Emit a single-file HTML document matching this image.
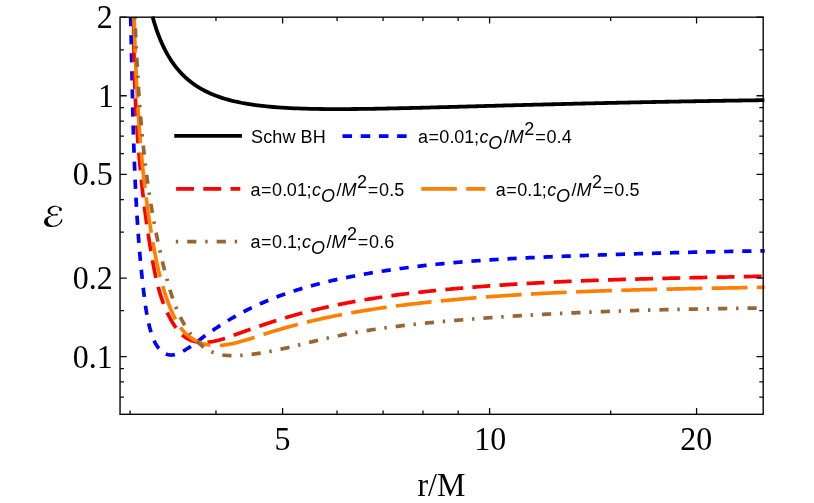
<!DOCTYPE html>
<html><head><meta charset="utf-8"><title>chart</title>
<style>html,body{margin:0;padding:0;background:#fff;}body{width:814px;height:503px;overflow:hidden;position:relative;font-family:"Liberation Sans",sans-serif;}</style>
</head><body>
<svg width="814" height="503" viewBox="0 0 814 503" style="position:absolute;left:0;top:0;will-change:transform;transform:translateZ(0)">
<rect x="0" y="0" width="814" height="503" fill="#fff"/>
<path d="M152.45,16.39 L153.07,18.61 L153.69,20.75 L154.31,22.80 L154.92,24.79 L155.54,26.70 L156.15,28.55 L156.76,30.34 L157.38,32.07 L157.99,33.74 L158.59,35.35 L159.20,36.92 L159.81,38.44 L160.41,39.91 L161.02,41.34 L161.62,42.72 L162.22,44.07 L162.82,45.37 L163.42,46.64 L164.02,47.87 L164.62,49.07 L165.21,50.24 L165.80,51.37 L166.40,52.48 L166.99,53.55 L167.58,54.60 L168.17,55.62 L168.76,56.61 L169.35,57.58 L169.93,58.53 L170.52,59.45 L171.10,60.35 L171.68,61.23 L172.27,62.08 L172.85,62.92 L173.42,63.74 L174.00,64.53 L174.58,65.31 L175.16,66.07 L175.73,66.82 L176.30,67.55 L176.88,68.26 L177.45,68.95 L178.02,69.63 L178.59,70.30 L179.16,70.95 L179.72,71.59 L180.29,72.21 L180.85,72.82 L181.42,73.42 L181.98,74.01 L182.54,74.58 L183.10,75.14 L183.66,75.69 L184.22,76.23 L184.78,76.76 L185.34,77.28 L185.89,77.79 L186.45,78.29 L187.00,78.78 L187.55,79.26 L188.10,79.73 L188.66,80.19 L189.20,80.64 L189.75,81.08 L190.30,81.52 L190.85,81.95 L191.39,82.37 L191.94,82.78 L192.48,83.18 L193.02,83.58 L193.56,83.97 L194.10,84.35 L194.64,84.73 L195.18,85.10 L195.72,85.46 L196.26,85.82 L196.79,86.17 L197.33,86.51 L197.86,86.85 L198.39,87.18 L198.93,87.51 L199.46,87.83 L199.99,88.14 L200.52,88.45 L201.04,88.76 L201.57,89.06 L202.10,89.35 L202.62,89.64 L203.15,89.93 L203.67,90.21 L204.19,90.48 L204.71,90.76 L205.23,91.02 L205.75,91.29 L206.27,91.54 L206.79,91.80 L207.31,92.05 L207.82,92.29 L208.34,92.54 L208.85,92.78 L209.37,93.01 L209.88,93.24 L210.39,93.47 L210.90,93.69 L211.41,93.91 L211.92,94.13 L212.43,94.34 L212.94,94.55 L213.44,94.76 L213.95,94.96 L214.46,95.17 L214.96,95.36 L215.46,95.56 L215.96,95.75 L221.19,97.60 L226.32,99.19 L231.37,100.55 L236.33,101.73 L241.21,102.75 L246.01,103.64 L250.74,104.41 L255.39,105.08 L259.97,105.67 L264.48,106.18 L268.93,106.62 L273.31,107.01 L277.63,107.35 L281.88,107.64 L286.08,107.90 L290.21,108.12 L294.29,108.31 L298.32,108.47 L302.29,108.60 L306.21,108.72 L310.08,108.82 L313.90,108.90 L317.67,108.96 L321.39,109.01 L325.07,109.05 L328.71,109.07 L332.30,109.09 L335.84,109.10 L339.35,109.09 L342.81,109.09 L346.24,109.07 L349.63,109.05 L352.98,109.02 L356.29,108.99 L359.56,108.96 L362.80,108.92 L366.01,108.87 L369.18,108.83 L372.31,108.78 L375.42,108.73 L378.49,108.68 L381.53,108.62 L384.54,108.56 L387.52,108.50 L390.48,108.44 L393.40,108.38 L396.29,108.32 L399.16,108.26 L402.00,108.19 L404.81,108.13 L407.60,108.06 L410.36,108.00 L413.09,107.93 L415.80,107.87 L418.49,107.80 L421.15,107.73 L423.79,107.67 L426.40,107.60 L429.00,107.53 L431.57,107.47 L434.11,107.40 L436.64,107.33 L439.15,107.27 L441.63,107.20 L444.10,107.14 L446.54,107.07 L448.96,107.01 L451.37,106.94 L453.75,106.88 L456.12,106.81 L458.47,106.75 L460.80,106.69 L463.11,106.62 L465.40,106.56 L467.68,106.50 L469.94,106.44 L472.18,106.38 L474.41,106.32 L476.62,106.26 L478.81,106.20 L480.99,106.14 L483.15,106.08 L485.29,106.02 L487.42,105.96 L489.54,105.91 L491.64,105.85 L493.72,105.79 L495.80,105.74 L497.85,105.68 L499.89,105.63 L501.92,105.57 L503.94,105.52 L505.94,105.46 L507.93,105.41 L509.90,105.36 L511.87,105.31 L513.82,105.25 L515.75,105.20 L517.68,105.15 L519.59,105.10 L521.49,105.05 L523.38,105.00 L525.25,104.95 L527.12,104.90 L528.97,104.86 L530.81,104.81 L532.64,104.76 L534.46,104.71 L536.27,104.67 L538.06,104.62 L539.85,104.58 L541.63,104.53 L543.39,104.49 L545.15,104.44 L546.89,104.40 L548.63,104.35 L550.35,104.31 L552.06,104.27 L553.77,104.23 L555.46,104.18 L557.15,104.14 L558.82,104.10 L560.49,104.06 L562.15,104.02 L563.80,103.98 L565.44,103.94 L567.07,103.90 L568.69,103.86 L570.30,103.82 L571.90,103.78 L573.50,103.75 L575.09,103.71 L576.66,103.67 L578.24,103.63 L579.80,103.60 L581.35,103.56 L582.90,103.52 L584.43,103.49 L585.96,103.45 L587.49,103.42 L589.00,103.38 L590.51,103.35 L592.01,103.31 L593.50,103.28 L594.98,103.24 L596.46,103.21 L597.93,103.18 L599.39,103.15 L600.85,103.11 L602.30,103.08 L603.74,103.05 L605.17,103.02 L606.60,102.98 L608.02,102.95 L609.43,102.92 L610.84,102.89 L612.24,102.86 L613.64,102.83 L615.02,102.80 L616.41,102.77 L617.78,102.74 L619.15,102.71 L620.51,102.68 L621.87,102.65 L623.22,102.62 L624.56,102.60 L625.90,102.57 L627.23,102.54 L628.56,102.51 L629.88,102.48 L631.19,102.46 L632.50,102.43 L633.80,102.40 L635.10,102.38 L636.39,102.35 L637.68,102.32 L638.96,102.30 L640.24,102.27 L641.51,102.25 L642.77,102.22 L644.03,102.19 L645.28,102.17 L646.53,102.14 L647.77,102.12 L649.01,102.10 L650.25,102.07 L651.47,102.05 L652.70,102.02 L653.91,102.00 L655.13,101.98 L656.34,101.95 L657.54,101.93 L658.74,101.91 L659.93,101.88 L661.12,101.86 L662.30,101.84 L663.48,101.81 L664.66,101.79 L665.83,101.77 L666.99,101.75 L668.16,101.73 L669.31,101.70 L670.46,101.68 L671.61,101.66 L672.76,101.64 L673.89,101.62 L675.03,101.60 L676.16,101.58 L677.29,101.56 L678.41,101.54 L679.52,101.52 L680.64,101.49 L681.75,101.47 L682.85,101.45 L683.95,101.43 L685.05,101.42 L686.14,101.40 L687.23,101.38 L688.32,101.36 L689.40,101.34 L690.48,101.32 L691.55,101.30 L692.62,101.28 L693.69,101.26 L694.75,101.24 L695.81,101.23 L696.86,101.21 L697.91,101.19 L698.96,101.17 L700.00,101.15 L701.04,101.13 L702.08,101.12 L703.11,101.10 L704.14,101.08 L705.17,101.06 L706.19,101.05 L707.21,101.03 L708.22,101.01 L709.23,101.00 L710.24,100.98 L711.25,100.96 L712.25,100.95 L713.25,100.93 L714.24,100.91 L715.23,100.90 L716.22,100.88 L717.21,100.86 L718.19,100.85 L719.17,100.83 L720.14,100.82 L721.11,100.80 L722.08,100.78 L723.05,100.77 L724.01,100.75 L724.97,100.74 L725.93,100.72 L726.88,100.71 L727.83,100.69 L728.78,100.68 L729.72,100.66 L730.66,100.65 L731.60,100.63 L732.54,100.62 L733.47,100.60 L734.40,100.59 L735.33,100.58 L736.25,100.56 L737.17,100.55 L738.09,100.53 L739.01,100.52 L739.92,100.50 L740.83,100.49 L741.74,100.48 L742.64,100.46 L743.54,100.45 L744.44,100.44 L745.34,100.42 L746.23,100.41 L747.12,100.40 L748.01,100.38 L748.90,100.37 L749.78,100.36 L750.66,100.34 L751.54,100.33 L752.41,100.32 L753.28,100.30 L754.16,100.29 L755.02,100.28 L755.89,100.27 L756.75,100.25 L757.61,100.24 L758.47,100.23 L759.32,100.22 L760.18,100.20 L761.03,100.19 L761.87,100.18 L762.72,100.17 L763.56,100.16 L764.40,100.14" fill="none" stroke="#000" stroke-width="3.8" stroke-linejoin="round"/>
<path d="M130.64,17.08 L130.69,18.99 L130.74,20.91 L130.79,22.83 L130.84,24.75 L130.89,26.67 L130.94,28.58 L130.99,30.50 L131.04,32.43 L131.08,34.35 L131.13,36.27 L131.18,38.19 L131.22,40.11 L131.27,42.03 L131.31,43.96 L131.35,45.88 L131.40,47.80 L131.44,49.73 L131.49,51.65 L131.53,53.58 L131.57,55.50 L131.61,57.43 L131.66,59.35 L131.70,61.28 L131.74,63.21 L131.78,65.13 L131.82,67.06 L131.87,68.99 L131.91,70.92 L131.95,72.84 L131.99,74.77 L132.03,76.70 L132.08,78.63 L132.12,80.56 L132.16,82.49 L132.20,84.42 L132.25,86.35 L132.29,88.28 L132.33,90.21 L132.38,92.14 L132.42,94.07 L132.47,96.00 L132.51,97.93 L132.55,99.86 L132.60,101.79 L132.65,103.72 L132.69,105.65 L132.74,107.58 L132.79,109.52 L132.83,111.45 L132.88,113.38 L132.93,115.31 L132.98,117.24 L133.03,119.18 L133.08,121.11 L133.14,123.04 L133.19,124.97 L133.24,126.90 L133.30,128.84 L133.35,130.77 L133.41,132.70 L133.46,134.63 L133.52,136.57 L133.58,138.50 L133.64,140.43 L133.70,142.36 L133.76,144.30 L133.82,146.23 L133.89,148.16 L133.95,150.09 L134.02,152.02 L134.08,153.96 L134.15,155.89 L134.22,157.82 L134.29,159.75 L134.37,161.68 L134.44,163.61 L134.51,165.54 L134.59,167.48 L134.67,169.41 L134.74,171.34 L134.82,173.27 L134.91,175.20 L134.99,177.13 L135.07,179.06 L135.16,180.99 L135.25,182.92 L135.34,184.85 L135.43,186.78 L135.52,188.71 L135.61,190.64 L135.71,192.56 L135.81,194.49 L135.91,196.42 L136.01,198.35 L136.11,200.28 L136.22,202.20 L136.32,204.13 L136.43,206.06 L136.54,207.98 L136.65,209.91 L136.77,211.83 L136.88,213.76 L137.00,215.68 L137.12,217.61 L137.25,219.53 L137.37,221.46 L137.50,223.38 L137.63,225.30 L137.76,227.22 L137.89,229.15 L138.03,231.07 L138.16,232.99 L138.31,234.91 L138.45,236.83 L138.59,238.75 L138.74,240.67 L138.89,242.59 L139.04,244.51 L139.20,246.43 L139.36,248.34 L139.52,250.26 L139.68,252.18 L139.84,254.09 L140.01,256.01 L140.18,257.92 L140.36,259.84 L140.53,261.75 L140.71,263.66 L140.89,265.58 L141.08,267.49 L141.27,269.40 L141.46,271.31 L141.65,273.22 L141.85,275.13 L142.04,277.04 L142.25,278.95 L142.45,280.86 L142.66,282.76 L142.87,284.67 L143.09,286.58 L143.30,288.48 L143.53,290.39 L143.75,292.29 L143.98,294.19 L144.21,296.10 L144.44,298.00 L144.69,299.90 L144.94,301.80 L145.19,303.70 L145.46,305.61 L145.74,307.51 L146.04,309.42 L146.34,311.33 L146.67,313.24 L147.01,315.16 L147.37,317.07 L147.75,318.99 L148.15,320.92 L148.58,322.84 L149.03,324.78 L149.50,326.71 L150.00,328.65 L150.54,330.60 L151.10,332.54 L151.71,334.47 L152.36,336.37 L153.07,338.24 L153.84,340.08 L154.67,341.86 L155.58,343.58 L156.56,345.23 L157.62,346.80 L158.78,348.29 L160.03,349.67 L161.37,350.95 L162.80,352.09 L164.31,353.07 L165.88,353.88 L167.51,354.48 L169.19,354.86 L170.91,355.00 L172.67,354.91 L174.44,354.61 L176.23,354.13 L178.02,353.50 L179.80,352.75 L181.56,351.90 L183.30,350.99 L185.01,350.02 L186.69,349.01 L188.34,347.95 L189.98,346.86 L191.60,345.73 L193.20,344.59 L194.79,343.42 L196.38,342.24 L197.95,341.06 L199.53,339.87 L201.11,338.69 L202.69,337.51 L204.27,336.35 L205.86,335.20 L207.45,334.06 L209.04,332.93 L210.64,331.81 L212.24,330.70 L213.85,329.60 L215.46,328.51 L217.08,327.44 L218.70,326.37 L220.32,325.32 L221.95,324.27 L223.59,323.24 L225.23,322.22 L226.87,321.21 L228.52,320.22 L230.17,319.23 L231.83,318.25 L233.49,317.29 L235.16,316.34 L236.83,315.40 L238.51,314.47 L240.19,313.55 L241.88,312.65 L243.58,311.75 L245.28,310.87 L246.98,310.00 L248.69,309.14 L250.41,308.29 L252.13,307.46 L253.86,306.64 L255.60,305.82 L257.33,305.02 L259.08,304.23 L260.83,303.46 L262.58,302.69 L264.34,301.93 L266.11,301.19 L267.87,300.45 L269.65,299.73 L271.43,299.02 L273.21,298.31 L275.00,297.62 L276.79,296.94 L278.59,296.26 L280.39,295.60 L282.19,294.95 L284.00,294.30 L285.81,293.67 L287.63,293.04 L289.45,292.43 L291.27,291.82 L293.10,291.22 L294.93,290.64 L296.77,290.06 L298.61,289.49 L300.45,288.92 L302.29,288.37 L304.14,287.82 L305.99,287.29 L307.85,286.76 L309.71,286.24 L311.57,285.72 L313.43,285.22 L315.29,284.72 L317.16,284.23 L319.03,283.75 L320.91,283.27 L322.78,282.81 L324.66,282.35 L326.54,281.89 L328.42,281.45 L330.31,281.01 L332.19,280.57 L334.08,280.14 L335.97,279.72 L337.86,279.31 L339.76,278.90 L341.65,278.50 L343.55,278.10 L345.45,277.71 L347.35,277.33 L349.25,276.95 L351.15,276.58 L353.05,276.21 L354.95,275.85 L356.86,275.49 L358.76,275.14 L360.67,274.79 L362.57,274.45 L364.48,274.11 L366.39,273.78 L368.30,273.45 L370.21,273.12 L372.11,272.80 L374.02,272.49 L375.93,272.18 L377.84,271.87 L379.75,271.56 L381.66,271.27 L383.57,270.97 L385.48,270.68 L387.39,270.39 L389.30,270.11 L391.21,269.83 L393.13,269.55 L395.04,269.28 L396.95,269.02 L398.86,268.75 L400.77,268.49 L402.69,268.23 L404.60,267.98 L406.51,267.73 L408.43,267.49 L410.34,267.25 L412.26,267.01 L414.17,266.77 L416.09,266.54 L418.00,266.31 L419.92,266.09 L421.83,265.87 L423.75,265.65 L425.66,265.44 L427.58,265.22 L429.49,265.02 L431.41,264.81 L433.33,264.61 L435.25,264.41 L437.16,264.22 L439.08,264.02 L441.00,263.83 L442.92,263.65 L444.83,263.46 L446.75,263.28 L448.67,263.10 L450.59,262.93 L452.51,262.76 L454.43,262.59 L456.35,262.42 L458.27,262.26 L460.19,262.09 L462.11,261.94 L464.03,261.78 L465.95,261.63 L467.87,261.47 L469.79,261.32 L471.71,261.18 L473.63,261.03 L475.55,260.89 L477.47,260.75 L479.39,260.62 L481.32,260.48 L483.24,260.35 L485.16,260.22 L487.08,260.09 L489.01,259.96 L490.93,259.84 L492.85,259.71 L494.77,259.59 L496.70,259.48 L498.62,259.36 L500.54,259.24 L502.47,259.13 L504.39,259.02 L506.32,258.91 L508.24,258.80 L510.16,258.70 L512.09,258.59 L514.01,258.49 L515.94,258.39 L517.86,258.29 L519.79,258.19 L521.71,258.09 L523.64,258.00 L525.56,257.91 L527.49,257.81 L529.42,257.72 L531.34,257.63 L533.27,257.54 L535.19,257.46 L537.12,257.37 L539.05,257.29 L540.97,257.20 L542.90,257.12 L544.82,257.04 L546.75,256.96 L548.68,256.88 L550.61,256.80 L552.53,256.72 L554.46,256.64 L556.39,256.57 L558.31,256.49 L560.24,256.42 L562.17,256.34 L564.10,256.27 L566.02,256.20 L567.95,256.12 L569.88,256.05 L571.81,255.98 L573.74,255.91 L575.66,255.84 L577.59,255.77 L579.52,255.70 L581.45,255.63 L583.38,255.56 L585.31,255.50 L587.23,255.43 L589.16,255.36 L591.09,255.29 L593.02,255.22 L594.95,255.16 L596.88,255.09 L598.81,255.02 L600.74,254.96 L602.67,254.89 L604.59,254.83 L606.52,254.76 L608.45,254.70 L610.38,254.63 L612.31,254.57 L614.24,254.50 L616.17,254.44 L618.10,254.38 L620.03,254.31 L621.96,254.25 L623.89,254.19 L625.82,254.13 L627.75,254.07 L629.68,254.00 L631.61,253.94 L633.54,253.88 L635.47,253.82 L637.40,253.76 L639.32,253.70 L641.25,253.64 L643.18,253.59 L645.11,253.53 L647.04,253.47 L648.97,253.41 L650.90,253.36 L652.83,253.30 L654.76,253.24 L656.69,253.19 L658.62,253.13 L660.55,253.08 L662.48,253.02 L664.41,252.97 L666.34,252.92 L668.27,252.86 L670.20,252.81 L672.13,252.76 L674.06,252.71 L675.99,252.66 L677.92,252.61 L679.85,252.56 L681.78,252.51 L683.71,252.46 L685.64,252.41 L687.56,252.36 L689.49,252.31 L691.42,252.27 L693.35,252.22 L695.28,252.18 L697.21,252.13 L699.14,252.09 L701.07,252.04 L703.00,252.00 L704.93,251.95 L706.86,251.91 L708.78,251.87 L710.71,251.83 L712.64,251.79 L714.57,251.75 L716.50,251.71 L718.43,251.67 L720.36,251.63 L722.28,251.59 L724.21,251.55 L726.14,251.52 L728.07,251.48 L730.00,251.45 L731.92,251.41 L733.85,251.38 L735.78,251.34 L737.71,251.31 L739.64,251.28 L741.56,251.25 L743.49,251.21 L745.42,251.18 L747.35,251.15 L749.27,251.12 L751.20,251.10 L753.13,251.07 L755.05,251.04 L756.98,251.01 L758.91,250.99 L760.83,250.96 L762.76,250.94 L764.69,250.92" fill="none" stroke="#0000ff" stroke-width="3.7" stroke-dasharray="9.2 8.87" stroke-linejoin="round"/>
<path d="M133.62,16.90 L133.63,18.75 L133.63,20.61 L133.64,22.46 L133.65,24.31 L133.66,26.16 L133.67,28.01 L133.68,29.86 L133.69,31.71 L133.71,33.56 L133.73,35.41 L133.75,37.26 L133.77,39.11 L133.79,40.95 L133.81,42.80 L133.84,44.65 L133.87,46.49 L133.90,48.34 L133.93,50.18 L133.96,52.03 L133.99,53.87 L134.03,55.71 L134.07,57.55 L134.11,59.40 L134.15,61.24 L134.19,63.08 L134.24,64.92 L134.29,66.76 L134.33,68.60 L134.39,70.44 L134.44,72.28 L134.49,74.12 L134.55,75.96 L134.61,77.80 L134.67,79.64 L134.73,81.47 L134.79,83.31 L134.86,85.15 L134.93,86.98 L135.00,88.82 L135.07,90.65 L135.15,92.49 L135.22,94.32 L135.30,96.16 L135.38,97.99 L135.46,99.83 L135.55,101.66 L135.63,103.49 L135.72,105.33 L135.81,107.16 L135.91,108.99 L136.00,110.82 L136.10,112.65 L136.20,114.48 L136.30,116.32 L136.41,118.15 L136.51,119.98 L136.62,121.81 L136.73,123.64 L136.85,125.47 L136.96,127.30 L137.08,129.12 L137.20,130.95 L137.32,132.78 L137.45,134.61 L137.58,136.44 L137.71,138.27 L137.84,140.09 L137.97,141.92 L138.11,143.75 L138.25,145.58 L138.39,147.40 L138.53,149.23 L138.68,151.06 L138.83,152.88 L138.98,154.71 L139.14,156.54 L139.29,158.36 L139.45,160.19 L139.61,162.01 L139.78,163.84 L139.95,165.66 L140.12,167.49 L140.29,169.31 L140.46,171.14 L140.64,172.96 L140.82,174.79 L141.00,176.61 L141.19,178.44 L141.38,180.26 L141.57,182.08 L141.76,183.91 L141.96,185.73 L142.16,187.56 L142.36,189.38 L142.57,191.20 L142.77,193.03 L142.98,194.85 L143.20,196.67 L143.41,198.50 L143.63,200.32 L143.85,202.15 L144.08,203.97 L144.31,205.79 L144.54,207.62 L144.77,209.44 L145.01,211.26 L145.24,213.09 L145.49,214.91 L145.73,216.73 L145.98,218.56 L146.23,220.38 L146.49,222.20 L146.74,224.03 L147.00,225.85 L147.27,227.67 L147.53,229.50 L147.80,231.32 L148.08,233.14 L148.35,234.97 L148.63,236.79 L148.91,238.62 L149.20,240.44 L149.49,242.26 L149.78,244.09 L150.07,245.91 L150.37,247.74 L150.67,249.56 L150.97,251.38 L151.28,253.21 L151.59,255.03 L151.91,256.86 L152.22,258.68 L152.55,260.51 L152.87,262.33 L153.21,264.16 L153.54,265.98 L153.89,267.80 L154.24,269.62 L154.60,271.43 L154.97,273.25 L155.35,275.06 L155.74,276.86 L156.15,278.67 L156.56,280.47 L156.99,282.26 L157.43,284.05 L157.88,285.84 L158.35,287.62 L158.84,289.40 L159.34,291.16 L159.86,292.93 L160.39,294.68 L160.95,296.43 L161.52,298.18 L162.12,299.91 L162.73,301.64 L163.37,303.35 L164.03,305.06 L164.71,306.76 L165.41,308.46 L166.14,310.14 L166.89,311.81 L167.67,313.47 L168.48,315.12 L169.31,316.76 L170.17,318.39 L171.06,320.01 L171.98,321.61 L172.93,323.20 L173.91,324.77 L174.93,326.31 L175.98,327.82 L177.08,329.28 L178.21,330.70 L179.39,332.06 L180.62,333.35 L181.89,334.58 L183.21,335.74 L184.59,336.81 L186.02,337.79 L187.51,338.68 L189.06,339.46 L190.66,340.15 L192.32,340.73 L194.01,341.22 L195.75,341.62 L197.52,341.92 L199.32,342.15 L201.13,342.29 L202.96,342.35 L204.81,342.34 L206.65,342.25 L208.49,342.10 L210.33,341.89 L212.16,341.61 L213.98,341.28 L215.80,340.90 L217.62,340.47 L219.43,340.01 L221.23,339.50 L223.04,338.96 L224.83,338.39 L226.63,337.80 L228.42,337.18 L230.20,336.55 L231.98,335.91 L233.76,335.26 L235.54,334.61 L237.31,333.96 L239.08,333.32 L240.84,332.68 L242.61,332.04 L244.37,331.41 L246.13,330.78 L247.88,330.15 L249.64,329.53 L251.39,328.91 L253.14,328.30 L254.89,327.69 L256.64,327.09 L258.38,326.49 L260.13,325.89 L261.87,325.30 L263.61,324.71 L265.35,324.13 L267.10,323.56 L268.84,322.98 L270.58,322.42 L272.32,321.85 L274.06,321.30 L275.80,320.74 L277.54,320.20 L279.29,319.66 L281.03,319.12 L282.77,318.59 L284.52,318.06 L286.26,317.54 L288.01,317.03 L289.76,316.52 L291.51,316.01 L293.26,315.51 L295.01,315.02 L296.77,314.53 L298.53,314.05 L300.29,313.58 L302.05,313.11 L303.81,312.64 L305.58,312.18 L307.34,311.73 L309.11,311.28 L310.88,310.84 L312.66,310.40 L314.43,309.97 L316.20,309.54 L317.98,309.12 L319.76,308.70 L321.54,308.29 L323.32,307.88 L325.11,307.48 L326.89,307.08 L328.68,306.68 L330.47,306.30 L332.25,305.91 L334.05,305.54 L335.84,305.16 L337.63,304.79 L339.43,304.43 L341.22,304.07 L343.02,303.71 L344.82,303.36 L346.62,303.01 L348.42,302.67 L350.23,302.33 L352.03,302.00 L353.83,301.67 L355.64,301.35 L357.45,301.02 L359.26,300.71 L361.07,300.39 L362.88,300.09 L364.69,299.78 L366.50,299.48 L368.32,299.18 L370.13,298.89 L371.95,298.60 L373.76,298.31 L375.58,298.03 L377.40,297.75 L379.22,297.48 L381.04,297.21 L382.86,296.94 L384.68,296.67 L386.51,296.41 L388.33,296.16 L390.16,295.90 L391.98,295.65 L393.81,295.40 L395.63,295.16 L397.46,294.92 L399.29,294.68 L401.12,294.44 L402.95,294.21 L404.77,293.98 L406.60,293.76 L408.44,293.53 L410.27,293.31 L412.10,293.10 L413.93,292.88 L415.76,292.67 L417.59,292.46 L419.43,292.25 L421.26,292.05 L423.10,291.85 L424.93,291.65 L426.76,291.45 L428.60,291.25 L430.43,291.06 L432.27,290.87 L434.10,290.69 L435.94,290.50 L437.78,290.32 L439.61,290.14 L441.45,289.96 L443.28,289.78 L445.12,289.60 L446.96,289.43 L448.79,289.26 L450.63,289.09 L452.46,288.92 L454.30,288.76 L456.14,288.59 L457.97,288.43 L459.81,288.27 L461.64,288.11 L463.48,287.96 L465.31,287.80 L467.15,287.65 L468.99,287.50 L470.82,287.34 L472.66,287.20 L474.49,287.05 L476.33,286.90 L478.16,286.76 L480.00,286.62 L481.83,286.48 L483.67,286.34 L485.50,286.20 L487.34,286.06 L489.17,285.93 L491.01,285.80 L492.84,285.67 L494.68,285.54 L496.51,285.41 L498.35,285.28 L500.18,285.16 L502.02,285.03 L503.85,284.91 L505.69,284.79 L507.52,284.67 L509.36,284.55 L511.19,284.43 L513.03,284.32 L514.86,284.20 L516.70,284.09 L518.53,283.98 L520.37,283.87 L522.20,283.76 L524.04,283.65 L525.87,283.55 L527.71,283.44 L529.54,283.34 L531.38,283.23 L533.21,283.13 L535.05,283.03 L536.88,282.93 L538.72,282.84 L540.55,282.74 L542.38,282.65 L544.22,282.55 L546.05,282.46 L547.89,282.37 L549.72,282.28 L551.56,282.19 L553.39,282.10 L555.23,282.01 L557.06,281.93 L558.90,281.84 L560.73,281.76 L562.57,281.67 L564.40,281.59 L566.24,281.51 L568.07,281.43 L569.91,281.35 L571.74,281.27 L573.58,281.20 L575.41,281.12 L577.25,281.05 L579.08,280.97 L580.92,280.90 L582.75,280.83 L584.59,280.76 L586.42,280.69 L588.26,280.62 L590.09,280.55 L591.93,280.48 L593.76,280.41 L595.60,280.35 L597.43,280.28 L599.27,280.22 L601.10,280.15 L602.94,280.09 L604.77,280.03 L606.61,279.97 L608.44,279.91 L610.28,279.85 L612.12,279.79 L613.95,279.73 L615.79,279.67 L617.62,279.62 L619.46,279.56 L621.30,279.50 L623.13,279.45 L624.97,279.39 L626.80,279.34 L628.64,279.29 L630.48,279.24 L632.31,279.18 L634.15,279.13 L635.98,279.08 L637.82,279.03 L639.66,278.98 L641.49,278.93 L643.33,278.88 L645.17,278.84 L647.00,278.79 L648.84,278.74 L650.68,278.69 L652.51,278.65 L654.35,278.60 L656.19,278.56 L658.03,278.51 L659.86,278.47 L661.70,278.42 L663.54,278.38 L665.38,278.34 L667.21,278.29 L669.05,278.25 L670.89,278.21 L672.73,278.17 L674.57,278.13 L676.40,278.08 L678.24,278.04 L680.08,278.00 L681.92,277.96 L683.76,277.92 L685.59,277.88 L687.43,277.84 L689.27,277.80 L691.11,277.76 L692.95,277.72 L694.79,277.68 L696.63,277.65 L698.47,277.61 L700.31,277.57 L702.15,277.53 L703.99,277.49 L705.83,277.45 L707.67,277.42 L709.51,277.38 L711.35,277.34 L713.19,277.30 L715.03,277.26 L716.87,277.23 L718.71,277.19 L720.55,277.15 L722.39,277.11 L724.23,277.08 L726.07,277.04 L727.91,277.00 L729.75,276.96 L731.59,276.93 L733.43,276.89 L735.28,276.85 L737.12,276.81 L738.96,276.77 L740.80,276.73 L742.64,276.70 L744.49,276.66 L746.33,276.62 L748.17,276.58 L750.01,276.54 L751.86,276.50 L753.70,276.46 L755.54,276.42 L757.39,276.38 L759.23,276.34 L761.07,276.30 L762.92,276.26 L764.76,276.22" fill="none" stroke="#ff0000" stroke-width="3.7" stroke-dasharray="17.9 9.26" stroke-linejoin="round"/>
<path d="M134.04,17.02 L134.10,18.84 L134.15,20.66 L134.21,22.48 L134.27,24.30 L134.33,26.12 L134.39,27.94 L134.45,29.76 L134.51,31.58 L134.57,33.40 L134.63,35.22 L134.69,37.05 L134.75,38.87 L134.82,40.69 L134.88,42.52 L134.95,44.34 L135.01,46.17 L135.08,47.99 L135.15,49.82 L135.22,51.64 L135.29,53.47 L135.36,55.29 L135.43,57.12 L135.50,58.95 L135.58,60.77 L135.65,62.60 L135.73,64.43 L135.81,66.26 L135.89,68.08 L135.97,69.91 L136.05,71.74 L136.13,73.57 L136.21,75.39 L136.30,77.22 L136.38,79.05 L136.47,80.88 L136.56,82.71 L136.65,84.54 L136.74,86.36 L136.84,88.19 L136.93,90.02 L137.03,91.85 L137.13,93.68 L137.22,95.51 L137.33,97.33 L137.43,99.16 L137.53,100.99 L137.64,102.82 L137.75,104.65 L137.86,106.47 L137.97,108.30 L138.08,110.13 L138.20,111.96 L138.31,113.78 L138.43,115.61 L138.55,117.44 L138.67,119.26 L138.80,121.09 L138.92,122.92 L139.05,124.74 L139.18,126.57 L139.32,128.39 L139.45,130.22 L139.59,132.04 L139.73,133.87 L139.87,135.69 L140.01,137.52 L140.15,139.34 L140.30,141.16 L140.45,142.99 L140.60,144.81 L140.76,146.63 L140.91,148.45 L141.07,150.27 L141.23,152.09 L141.40,153.91 L141.57,155.73 L141.73,157.55 L141.90,159.37 L142.08,161.19 L142.25,163.01 L142.43,164.82 L142.62,166.64 L142.80,168.46 L142.99,170.27 L143.18,172.09 L143.37,173.90 L143.56,175.72 L143.76,177.53 L143.96,179.34 L144.16,181.15 L144.37,182.96 L144.58,184.77 L144.79,186.58 L145.00,188.39 L145.22,190.20 L145.44,192.01 L145.67,193.82 L145.89,195.63 L146.12,197.44 L146.36,199.24 L146.59,201.05 L146.83,202.86 L147.07,204.66 L147.32,206.47 L147.57,208.28 L147.82,210.08 L148.07,211.89 L148.33,213.69 L148.59,215.50 L148.86,217.30 L149.13,219.11 L149.40,220.91 L149.67,222.72 L149.95,224.52 L150.23,226.33 L150.52,228.13 L150.81,229.94 L151.10,231.74 L151.40,233.55 L151.70,235.35 L152.00,237.16 L152.31,238.96 L152.62,240.77 L152.93,242.57 L153.25,244.38 L153.57,246.19 L153.90,247.99 L154.24,249.80 L154.57,251.60 L154.92,253.40 L155.27,255.20 L155.63,257.00 L155.99,258.80 L156.36,260.60 L156.74,262.40 L157.13,264.19 L157.52,265.98 L157.92,267.77 L158.34,269.56 L158.76,271.35 L159.19,273.13 L159.63,274.91 L160.08,276.69 L160.54,278.46 L161.01,280.23 L161.49,282.00 L161.98,283.76 L162.49,285.52 L163.01,287.28 L163.54,289.03 L164.08,290.77 L164.64,292.52 L165.21,294.25 L165.79,295.99 L166.39,297.72 L167.00,299.44 L167.62,301.16 L168.26,302.87 L168.92,304.58 L169.59,306.28 L170.28,307.97 L170.98,309.66 L171.71,311.35 L172.44,313.02 L173.20,314.69 L173.98,316.35 L174.79,317.99 L175.63,319.61 L176.50,321.21 L177.41,322.79 L178.35,324.34 L179.34,325.85 L180.38,327.34 L181.47,328.79 L182.61,330.19 L183.80,331.56 L185.06,332.88 L186.38,334.14 L187.77,335.36 L189.22,336.52 L190.73,337.62 L192.29,338.66 L193.90,339.63 L195.54,340.54 L197.22,341.37 L198.92,342.13 L200.63,342.81 L202.36,343.41 L204.09,343.92 L205.83,344.36 L207.56,344.71 L209.30,344.99 L211.04,345.20 L212.77,345.35 L214.51,345.43 L216.25,345.46 L218.00,345.43 L219.74,345.35 L221.48,345.23 L223.23,345.07 L224.97,344.87 L226.72,344.63 L228.47,344.35 L230.21,344.04 L231.96,343.70 L233.71,343.33 L235.47,342.93 L237.22,342.50 L238.97,342.05 L240.73,341.58 L242.48,341.09 L244.24,340.58 L246.00,340.05 L247.75,339.51 L249.51,338.96 L251.27,338.40 L253.03,337.83 L254.80,337.25 L256.56,336.67 L258.32,336.09 L260.09,335.50 L261.85,334.92 L263.62,334.34 L265.39,333.77 L267.16,333.21 L268.93,332.65 L270.70,332.09 L272.47,331.55 L274.24,331.01 L276.01,330.47 L277.78,329.94 L279.56,329.42 L281.33,328.90 L283.11,328.39 L284.88,327.89 L286.66,327.39 L288.44,326.90 L290.22,326.41 L292.00,325.93 L293.78,325.45 L295.56,324.98 L297.34,324.51 L299.12,324.05 L300.91,323.60 L302.69,323.15 L304.47,322.70 L306.26,322.27 L308.05,321.83 L309.83,321.40 L311.62,320.98 L313.41,320.56 L315.20,320.15 L316.99,319.74 L318.78,319.34 L320.57,318.94 L322.36,318.55 L324.15,318.16 L325.94,317.77 L327.74,317.39 L329.53,317.02 L331.32,316.65 L333.12,316.28 L334.91,315.92 L336.71,315.56 L338.51,315.21 L340.30,314.86 L342.10,314.52 L343.90,314.18 L345.70,313.84 L347.50,313.51 L349.30,313.19 L351.10,312.86 L352.90,312.54 L354.70,312.23 L356.50,311.92 L358.30,311.61 L360.11,311.31 L361.91,311.01 L363.71,310.71 L365.52,310.42 L367.32,310.13 L369.13,309.85 L370.93,309.57 L372.74,309.29 L374.55,309.01 L376.35,308.74 L378.16,308.47 L379.97,308.21 L381.78,307.95 L383.59,307.69 L385.39,307.44 L387.20,307.18 L389.01,306.93 L390.82,306.69 L392.63,306.45 L394.44,306.21 L396.25,305.97 L398.07,305.74 L399.88,305.50 L401.69,305.28 L403.50,305.05 L405.31,304.83 L407.13,304.61 L408.94,304.39 L410.75,304.17 L412.57,303.96 L414.38,303.75 L416.19,303.54 L418.01,303.33 L419.82,303.13 L421.64,302.93 L423.45,302.73 L425.27,302.53 L427.08,302.34 L428.90,302.14 L430.72,301.95 L432.53,301.76 L434.35,301.57 L436.16,301.39 L437.98,301.20 L439.80,301.02 L441.61,300.84 L443.43,300.66 L445.25,300.49 L447.07,300.31 L448.88,300.14 L450.70,299.97 L452.52,299.80 L454.34,299.63 L456.16,299.47 L457.97,299.30 L459.79,299.14 L461.61,298.98 L463.43,298.82 L465.25,298.66 L467.07,298.51 L468.89,298.35 L470.71,298.20 L472.53,298.05 L474.35,297.90 L476.17,297.76 L477.99,297.61 L479.81,297.47 L481.63,297.32 L483.45,297.18 L485.27,297.05 L487.09,296.91 L488.91,296.77 L490.73,296.64 L492.56,296.50 L494.38,296.37 L496.20,296.24 L498.02,296.12 L499.84,295.99 L501.66,295.86 L503.49,295.74 L505.31,295.62 L507.13,295.50 L508.95,295.38 L510.78,295.26 L512.60,295.14 L514.42,295.03 L516.24,294.91 L518.07,294.80 L519.89,294.69 L521.71,294.58 L523.54,294.47 L525.36,294.36 L527.19,294.26 L529.01,294.15 L530.83,294.05 L532.66,293.95 L534.48,293.84 L536.31,293.75 L538.13,293.65 L539.95,293.55 L541.78,293.45 L543.60,293.36 L545.43,293.27 L547.25,293.17 L549.08,293.08 L550.90,292.99 L552.73,292.90 L554.55,292.82 L556.38,292.73 L558.21,292.64 L560.03,292.56 L561.86,292.48 L563.68,292.39 L565.51,292.31 L567.33,292.23 L569.16,292.15 L570.99,292.08 L572.81,292.00 L574.64,291.92 L576.46,291.85 L578.29,291.77 L580.12,291.70 L581.94,291.63 L583.77,291.56 L585.60,291.49 L587.42,291.42 L589.25,291.35 L591.08,291.28 L592.90,291.22 L594.73,291.15 L596.56,291.09 L598.38,291.02 L600.21,290.96 L602.04,290.90 L603.87,290.83 L605.69,290.77 L607.52,290.71 L609.35,290.65 L611.17,290.60 L613.00,290.54 L614.83,290.48 L616.66,290.43 L618.48,290.37 L620.31,290.32 L622.14,290.26 L623.97,290.21 L625.80,290.16 L627.62,290.10 L629.45,290.05 L631.28,290.00 L633.11,289.95 L634.93,289.90 L636.76,289.86 L638.59,289.81 L640.42,289.76 L642.25,289.71 L644.07,289.67 L645.90,289.62 L647.73,289.58 L649.56,289.53 L651.39,289.49 L653.21,289.44 L655.04,289.40 L656.87,289.36 L658.70,289.31 L660.53,289.27 L662.35,289.23 L664.18,289.19 L666.01,289.15 L667.84,289.11 L669.67,289.07 L671.50,289.03 L673.32,288.99 L675.15,288.95 L676.98,288.92 L678.81,288.88 L680.64,288.84 L682.46,288.80 L684.29,288.77 L686.12,288.73 L687.95,288.69 L689.78,288.66 L691.60,288.62 L693.43,288.59 L695.26,288.55 L697.09,288.52 L698.92,288.48 L700.74,288.45 L702.57,288.41 L704.40,288.38 L706.23,288.34 L708.06,288.31 L709.88,288.28 L711.71,288.24 L713.54,288.21 L715.37,288.18 L717.20,288.14 L719.02,288.11 L720.85,288.08 L722.68,288.04 L724.51,288.01 L726.33,287.98 L728.16,287.94 L729.99,287.91 L731.82,287.88 L733.64,287.84 L735.47,287.81 L737.30,287.78 L739.12,287.75 L740.95,287.71 L742.78,287.68 L744.61,287.65 L746.43,287.61 L748.26,287.58 L750.09,287.55 L751.91,287.51 L753.74,287.48 L755.57,287.44 L757.39,287.41 L759.22,287.38 L761.05,287.34 L762.87,287.31 L764.70,287.27" fill="none" stroke="#ff8000" stroke-width="3.7" stroke-dasharray="35.8 9.4" stroke-linejoin="round"/>
<path d="M134.86,16.94 L134.94,18.76 L135.02,20.59 L135.10,22.42 L135.18,24.25 L135.26,26.08 L135.34,27.90 L135.42,29.73 L135.50,31.56 L135.58,33.38 L135.67,35.21 L135.75,37.04 L135.83,38.86 L135.92,40.69 L136.00,42.52 L136.09,44.34 L136.18,46.17 L136.27,47.99 L136.36,49.82 L136.45,51.65 L136.54,53.47 L136.63,55.29 L136.72,57.12 L136.82,58.94 L136.91,60.77 L137.01,62.59 L137.11,64.42 L137.21,66.24 L137.31,68.06 L137.41,69.89 L137.51,71.71 L137.62,73.53 L137.73,75.35 L137.83,77.18 L137.94,79.00 L138.05,80.82 L138.16,82.64 L138.28,84.46 L138.39,86.28 L138.51,88.11 L138.63,89.93 L138.75,91.75 L138.87,93.57 L138.99,95.39 L139.12,97.21 L139.25,99.02 L139.38,100.84 L139.51,102.66 L139.64,104.48 L139.77,106.30 L139.91,108.12 L140.05,109.93 L140.19,111.75 L140.33,113.57 L140.48,115.38 L140.63,117.20 L140.78,119.02 L140.93,120.83 L141.08,122.65 L141.24,124.46 L141.40,126.28 L141.56,128.09 L141.72,129.90 L141.89,131.72 L142.06,133.53 L142.23,135.34 L142.40,137.16 L142.58,138.97 L142.75,140.78 L142.93,142.59 L143.12,144.40 L143.30,146.21 L143.49,148.02 L143.69,149.83 L143.88,151.64 L144.08,153.45 L144.28,155.26 L144.48,157.07 L144.69,158.88 L144.90,160.69 L145.11,162.49 L145.32,164.30 L145.54,166.11 L145.76,167.91 L145.99,169.72 L146.21,171.52 L146.44,173.33 L146.68,175.13 L146.92,176.94 L147.16,178.74 L147.40,180.54 L147.65,182.35 L147.90,184.15 L148.15,185.95 L148.41,187.75 L148.67,189.55 L148.93,191.35 L149.20,193.15 L149.47,194.95 L149.75,196.75 L150.03,198.55 L150.31,200.35 L150.59,202.15 L150.88,203.94 L151.18,205.74 L151.47,207.54 L151.78,209.33 L152.08,211.13 L152.39,212.92 L152.70,214.72 L153.02,216.51 L153.34,218.30 L153.66,220.10 L153.99,221.89 L154.33,223.68 L154.66,225.47 L155.00,227.26 L155.35,229.05 L155.70,230.84 L156.05,232.63 L156.41,234.42 L156.77,236.21 L157.14,237.99 L157.51,239.78 L157.89,241.57 L158.27,243.35 L158.65,245.14 L159.04,246.92 L159.44,248.71 L159.84,250.49 L160.24,252.27 L160.65,254.05 L161.06,255.84 L161.48,257.62 L161.90,259.40 L162.33,261.18 L162.76,262.96 L163.19,264.74 L163.63,266.51 L164.08,268.29 L164.53,270.07 L164.99,271.85 L165.45,273.62 L165.92,275.40 L166.39,277.17 L166.86,278.94 L167.35,280.72 L167.83,282.49 L168.33,284.26 L168.83,286.03 L169.35,287.79 L169.87,289.55 L170.40,291.31 L170.94,293.06 L171.50,294.81 L172.07,296.55 L172.65,298.28 L173.25,300.01 L173.86,301.74 L174.49,303.45 L175.14,305.16 L175.80,306.85 L176.48,308.54 L177.18,310.22 L177.91,311.89 L178.65,313.55 L179.42,315.19 L180.20,316.83 L181.02,318.45 L181.85,320.06 L182.71,321.66 L183.60,323.24 L184.51,324.81 L185.46,326.36 L186.43,327.90 L187.43,329.42 L188.46,330.93 L189.52,332.42 L190.61,333.89 L191.74,335.34 L192.89,336.77 L194.09,338.18 L195.31,339.55 L196.57,340.89 L197.87,342.19 L199.20,343.45 L200.56,344.67 L201.97,345.83 L203.41,346.94 L204.88,348.00 L206.39,348.99 L207.94,349.92 L209.52,350.78 L211.12,351.57 L212.75,352.28 L214.40,352.91 L216.07,353.46 L217.75,353.94 L219.46,354.36 L221.18,354.70 L222.91,354.99 L224.66,355.22 L226.42,355.40 L228.18,355.52 L229.96,355.61 L231.75,355.65 L233.54,355.65 L235.33,355.62 L237.13,355.56 L238.94,355.47 L240.74,355.37 L242.54,355.24 L244.34,355.10 L246.15,354.94 L247.95,354.76 L249.75,354.57 L251.55,354.36 L253.35,354.14 L255.15,353.90 L256.95,353.65 L258.75,353.38 L260.55,353.10 L262.35,352.81 L264.15,352.51 L265.95,352.19 L267.75,351.87 L269.55,351.53 L271.35,351.19 L273.15,350.83 L274.95,350.47 L276.74,350.09 L278.54,349.71 L280.34,349.32 L282.14,348.93 L283.93,348.52 L285.73,348.12 L287.53,347.70 L289.33,347.28 L291.12,346.86 L292.92,346.43 L294.71,346.00 L296.51,345.57 L298.31,345.13 L300.10,344.69 L301.90,344.25 L303.70,343.81 L305.49,343.37 L307.29,342.93 L309.08,342.49 L310.88,342.04 L312.67,341.61 L314.47,341.17 L316.27,340.73 L318.06,340.30 L319.86,339.87 L321.65,339.45 L323.45,339.03 L325.24,338.62 L327.04,338.21 L328.83,337.80 L330.63,337.41 L332.42,337.01 L334.22,336.63 L336.01,336.25 L337.81,335.88 L339.61,335.51 L341.40,335.15 L343.20,334.79 L344.99,334.44 L346.79,334.09 L348.58,333.75 L350.38,333.42 L352.18,333.09 L353.97,332.76 L355.77,332.44 L357.56,332.13 L359.36,331.82 L361.16,331.51 L362.95,331.21 L364.75,330.92 L366.55,330.63 L368.34,330.34 L370.14,330.06 L371.94,329.78 L373.73,329.51 L375.53,329.24 L377.33,328.97 L379.13,328.71 L380.93,328.46 L382.72,328.20 L384.52,327.95 L386.32,327.71 L388.12,327.47 L389.92,327.23 L391.72,326.99 L393.52,326.76 L395.32,326.54 L397.12,326.31 L398.92,326.09 L400.72,325.87 L402.52,325.66 L404.32,325.45 L406.12,325.24 L407.92,325.03 L409.72,324.83 L411.53,324.63 L413.33,324.43 L415.13,324.24 L416.93,324.05 L418.74,323.86 L420.54,323.67 L422.35,323.49 L424.15,323.30 L425.96,323.12 L427.76,322.94 L429.57,322.77 L431.37,322.59 L433.18,322.42 L434.98,322.25 L436.79,322.08 L438.60,321.91 L440.41,321.74 L442.21,321.58 L444.02,321.42 L445.83,321.25 L447.64,321.09 L449.45,320.93 L451.26,320.78 L453.07,320.62 L454.88,320.46 L456.69,320.31 L458.51,320.16 L460.32,320.00 L462.13,319.85 L463.94,319.70 L465.76,319.56 L467.57,319.41 L469.38,319.27 L471.20,319.12 L473.01,318.98 L474.83,318.84 L476.64,318.70 L478.46,318.56 L480.27,318.42 L482.09,318.28 L483.91,318.15 L485.72,318.01 L487.54,317.88 L489.36,317.75 L491.18,317.62 L493.00,317.49 L494.81,317.36 L496.63,317.23 L498.45,317.11 L500.27,316.98 L502.09,316.86 L503.91,316.73 L505.73,316.61 L507.55,316.49 L509.37,316.37 L511.19,316.25 L513.01,316.14 L514.83,316.02 L516.65,315.91 L518.48,315.79 L520.30,315.68 L522.12,315.57 L523.94,315.46 L525.77,315.35 L527.59,315.24 L529.41,315.13 L531.23,315.03 L533.06,314.92 L534.88,314.82 L536.71,314.71 L538.53,314.61 L540.35,314.51 L542.18,314.41 L544.00,314.31 L545.83,314.21 L547.65,314.12 L549.48,314.02 L551.30,313.93 L553.13,313.83 L554.95,313.74 L556.78,313.65 L558.60,313.56 L560.43,313.47 L562.25,313.38 L564.08,313.29 L565.91,313.20 L567.73,313.11 L569.56,313.03 L571.38,312.94 L573.21,312.86 L575.04,312.78 L576.86,312.70 L578.69,312.62 L580.52,312.54 L582.34,312.46 L584.17,312.38 L586.00,312.30 L587.83,312.22 L589.65,312.15 L591.48,312.07 L593.31,312.00 L595.13,311.93 L596.96,311.85 L598.79,311.78 L600.61,311.71 L602.44,311.64 L604.27,311.57 L606.10,311.50 L607.92,311.44 L609.75,311.37 L611.58,311.30 L613.40,311.24 L615.23,311.18 L617.06,311.11 L618.89,311.05 L620.71,310.99 L622.54,310.93 L624.37,310.87 L626.19,310.81 L628.02,310.75 L629.85,310.69 L631.67,310.63 L633.50,310.57 L635.33,310.52 L637.15,310.46 L638.98,310.41 L640.81,310.36 L642.63,310.30 L644.46,310.25 L646.29,310.20 L648.11,310.15 L649.94,310.10 L651.76,310.05 L653.59,310.00 L655.41,309.95 L657.24,309.90 L659.07,309.85 L660.89,309.81 L662.72,309.76 L664.54,309.71 L666.37,309.67 L668.19,309.63 L670.01,309.58 L671.84,309.54 L673.66,309.50 L675.49,309.46 L677.31,309.41 L679.13,309.37 L680.96,309.33 L682.78,309.29 L684.60,309.26 L686.43,309.22 L688.25,309.18 L690.07,309.14 L691.89,309.10 L693.71,309.07 L695.54,309.03 L697.36,309.00 L699.18,308.96 L701.00,308.93 L702.82,308.89 L704.64,308.86 L706.46,308.83 L708.28,308.80 L710.10,308.76 L711.92,308.73 L713.74,308.70 L715.56,308.67 L717.38,308.64 L719.20,308.61 L721.01,308.58 L722.83,308.56 L724.65,308.53 L726.47,308.50 L728.28,308.47 L730.10,308.44 L731.92,308.42 L733.73,308.39 L735.55,308.37 L737.36,308.34 L739.18,308.32 L740.99,308.29 L742.81,308.27 L744.62,308.24 L746.43,308.22 L748.25,308.20 L750.06,308.17 L751.87,308.15 L753.68,308.13 L755.50,308.11 L757.31,308.09 L759.12,308.06 L760.93,308.04 L762.74,308.02 L764.55,308.00" fill="none" stroke="#996633" stroke-width="3.7" stroke-dasharray="2.4 9.0 9.2 8.77" stroke-linejoin="round"/>
<rect x="120.05" y="17.2" width="643.1500000000001" height="397.1" fill="none" stroke="#0a0a0a" stroke-width="1.42"/>
<path d="M282.60,414.3 v-6.4 M282.60,17.2 v6.4 M489.59,414.3 v-6.4 M489.59,17.2 v6.4 M696.58,414.3 v-6.4 M696.58,17.2 v6.4 M130.06,414.3 v-3.8 M130.06,17.2 v3.8 M215.96,414.3 v-3.8 M215.96,17.2 v3.8 M337.05,414.3 v-3.8 M337.05,17.2 v3.8 M383.08,414.3 v-3.8 M383.08,17.2 v3.8 M422.95,414.3 v-3.8 M422.95,17.2 v3.8 M458.13,414.3 v-3.8 M458.13,17.2 v3.8 M610.67,414.3 v-3.8 M610.67,17.2 v3.8 M120.05,17.21 h6.7 M763.2,17.21 h-6.7 M120.05,95.75 h6.7 M763.2,95.75 h-6.7 M120.05,174.29 h6.7 M763.2,174.29 h-6.7 M120.05,278.11 h6.7 M763.2,278.11 h-6.7 M120.05,356.65 h6.7 M763.2,356.65 h-6.7 M120.05,49.81 h3.9 M763.2,49.81 h-3.9 M120.05,107.69 h3.9 M763.2,107.69 h-3.9 M120.05,121.03 h3.9 M763.2,121.03 h-3.9 M120.05,136.16 h3.9 M763.2,136.16 h-3.9 M120.05,153.63 h3.9 M763.2,153.63 h-3.9 M120.05,199.57 h3.9 M763.2,199.57 h-3.9 M120.05,232.17 h3.9 M763.2,232.17 h-3.9 M120.05,310.71 h3.9 M763.2,310.71 h-3.9 M120.05,368.59 h3.9 M763.2,368.59 h-3.9 M120.05,381.93 h3.9 M763.2,381.93 h-3.9 M120.05,397.06 h3.9 M763.2,397.06 h-3.9" fill="none" stroke="#0a0a0a" stroke-width="1.3"/>
<g font-family="Liberation Serif, serif" font-size="33" fill="#000">
<text transform="translate(274.50,449.80) scale(0.968,1)">5</text>
<text transform="translate(474.30,449.80) scale(0.968,1)">10</text>
<text transform="translate(680.30,449.80) scale(0.968,1)">20</text>
<text transform="translate(96.80,28.21) scale(0.968,1)">2</text>
<text transform="translate(98.00,106.75) scale(0.968,1)">1</text>
<text transform="translate(72.80,185.29) scale(0.968,1)">0.5</text>
<text transform="translate(72.80,289.11) scale(0.968,1)">0.2</text>
<text transform="translate(72.80,367.65) scale(0.968,1)">0.1</text>
<text transform="translate(417.40,495.80) scale(0.968,1)">r/M</text>
</g>
<path d="M61.84,208.76 L61.44,208.14 L60.84,207.66 L60.13,207.27 L59.40,206.94 L58.67,206.64 L57.95,206.38 L57.23,206.16 L56.50,205.98 L55.77,205.86 L55.03,205.79 L54.29,205.78 L53.54,205.83 L52.79,205.94 L52.05,206.14 L51.33,206.41 L50.62,206.76 L49.95,207.19 L49.33,207.69 L48.78,208.25 L48.32,208.86 L47.95,209.52 L47.71,210.21 L47.59,210.93 L47.63,211.67 L47.83,212.41 L48.22,213.09 L48.83,213.68 L49.62,214.15 L50.45,214.51 L51.14,214.82 L51.52,215.09 L51.45,215.36 L50.99,215.63 L50.26,215.92 L49.34,216.24 L48.36,216.58 L47.42,216.97 L46.61,217.39 L45.94,217.87 L45.40,218.40 L44.97,218.99 L44.63,219.63 L44.37,220.33 L44.18,221.08 L44.09,221.86 L44.12,222.63 L44.28,223.37 L44.59,224.05 L45.04,224.66 L45.60,225.21 L46.24,225.68 L46.93,226.07 L47.64,226.38 L48.37,226.61 L49.11,226.78 L49.86,226.89 L50.62,226.95 L51.38,226.97 L52.15,226.96 L52.92,226.92 L53.68,226.86 L54.44,226.76 L55.19,226.61 L55.92,226.42 L56.62,226.17 L57.31,225.86 L57.96,225.49 L58.60,225.08 L59.21,224.63 L59.81,224.15 L60.39,223.64 L60.95,223.11 L61.44,222.54 L61.85,221.89 L62.15,221.15 L62.28,220.30 L62.24,219.37 L62.02,218.77 L61.65,218.94 L61.23,219.63 L60.89,220.36 L60.58,221.07 L60.27,221.75 L59.91,222.38 L59.47,222.98 L58.95,223.52 L58.37,224.01 L57.73,224.44 L57.04,224.82 L56.32,225.12 L55.57,225.37 L54.81,225.53 L54.04,225.63 L53.28,225.64 L52.53,225.58 L51.80,225.43 L51.10,225.19 L50.44,224.86 L49.83,224.45 L49.27,223.94 L48.77,223.33 L48.36,222.63 L48.04,221.88 L47.86,221.10 L47.82,220.33 L47.95,219.61 L48.22,218.92 L48.62,218.30 L49.13,217.72 L49.71,217.21 L50.35,216.76 L51.03,216.38 L51.72,216.08 L52.41,215.85 L53.11,215.69 L53.87,215.60 L54.71,215.57 L55.64,215.58 L56.55,215.55 L57.31,215.39 L57.81,215.01 L57.92,214.36 L57.67,213.84 L57.13,213.72 L56.39,213.87 L55.53,214.14 L54.63,214.35 L53.76,214.39 L52.94,214.26 L52.19,213.99 L51.54,213.59 L50.99,213.08 L50.58,212.47 L50.31,211.79 L50.19,211.07 L50.23,210.34 L50.42,209.63 L50.78,208.97 L51.29,208.40 L51.93,207.92 L52.64,207.52 L53.38,207.20 L54.11,206.97 L54.85,206.83 L55.58,206.78 L56.32,206.84 L57.05,207.01 L57.77,207.30 L58.48,207.71 L59.05,208.24 L59.26,208.90 L59.14,209.65 L59.20,210.37 L59.69,210.92 L60.43,211.11 L61.19,210.86 L61.76,210.29 L61.96,209.52 L61.84,208.76Z" fill="#000"/>
<g font-family="Liberation Sans, sans-serif" font-size="18" fill="#000">
<path d="M174.3,135.95 H241.9" stroke="#000" stroke-width="3.8" fill="none"/>
<text x="251.1" y="142.6" letter-spacing="0.1">Schw BH</text>
<path d="M342.5,136.1 h64.2" stroke="#0000ff" stroke-width="3.7" stroke-dasharray="9.55 8.65" fill="none"/>
<text x="417.94 428.40 439.34 449.54 454.24 464.34 473.88" y="142.6">a=0.01;</text><text x="479.40" y="142.6" font-style="italic">c</text><text x="488.30" y="148.80" font-style="italic">O</text><text x="503.80" y="142.6">/</text><text x="508.80" y="142.6" font-style="italic">M</text><text x="524.30" y="135.40">2</text><text x="535.20" y="142.6">=</text><text x="546.50" y="142.6" letter-spacing="0.1">0.4</text>
<path d="M176.1,188.9 h64.2" stroke="#ff0000" stroke-width="3.7" stroke-dasharray="17.9 9.3" fill="none"/>
<text x="250.54 261.00 271.94 282.14 286.84 296.94 306.48" y="195.6">a=0.01;</text><text x="312.00" y="195.6" font-style="italic">c</text><text x="320.90" y="201.80" font-style="italic">O</text><text x="336.40" y="195.6">/</text><text x="341.40" y="195.6" font-style="italic">M</text><text x="356.90" y="188.40">2</text><text x="367.80" y="195.6">=</text><text x="379.10" y="195.6" letter-spacing="0.1">0.5</text>
<path d="M421.2,188.8 h64.2" stroke="#ff8000" stroke-width="3.7" stroke-dasharray="35.6 9.4" fill="none"/>
<text x="495.74 506.20 517.14 527.34 532.14 541.68" y="195.6">a=0.1;</text><text x="547.20" y="195.6" font-style="italic">c</text><text x="556.10" y="201.80" font-style="italic">O</text><text x="571.60" y="195.6">/</text><text x="576.60" y="195.6" font-style="italic">M</text><text x="592.10" y="188.40">2</text><text x="603.00" y="195.6">=</text><text x="614.30" y="195.6" letter-spacing="0.1">0.5</text>
<path d="M175.8,241.55 h64.2" stroke="#996633" stroke-width="3.7" stroke-dasharray="2.4 9.0 9.2 8.85" fill="none"/>
<text x="250.54 261.00 271.94 282.14 286.94 296.48" y="247.6">a=0.1;</text><text x="302.00" y="247.6" font-style="italic">c</text><text x="310.90" y="253.80" font-style="italic">O</text><text x="326.40" y="247.6">/</text><text x="331.40" y="247.6" font-style="italic">M</text><text x="346.90" y="240.40">2</text><text x="357.80" y="247.6">=</text><text x="369.10" y="247.6" letter-spacing="0.1">0.6</text>
</g>
</svg>
</body></html>
